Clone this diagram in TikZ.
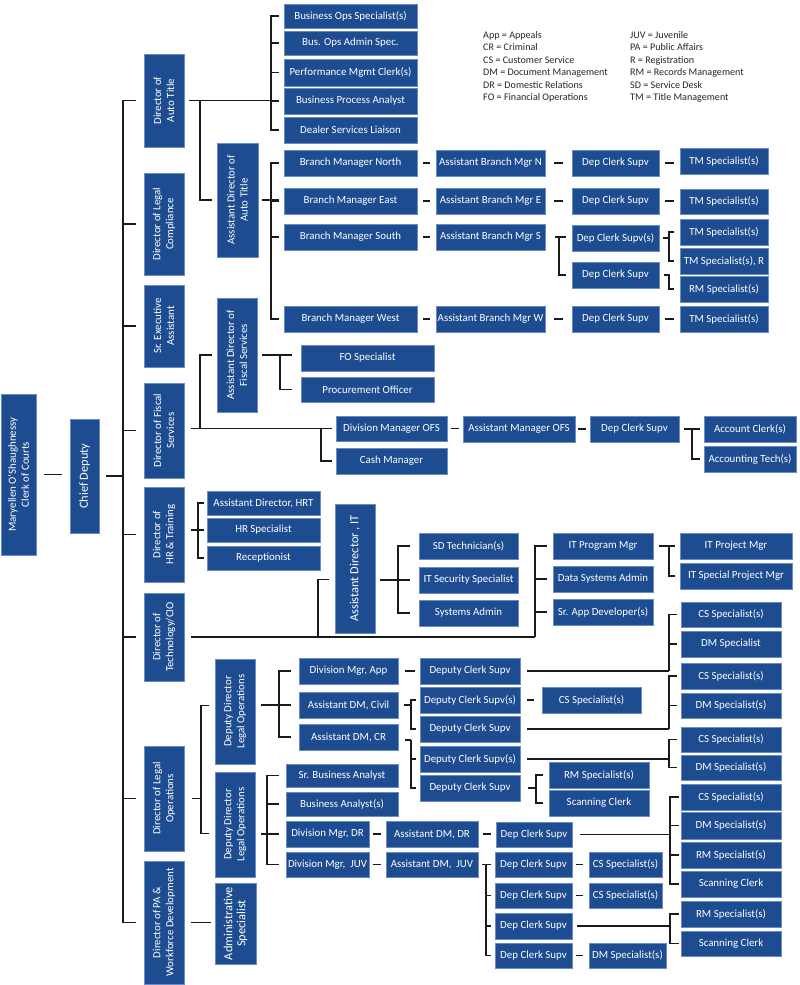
\documentclass[tikz,border=0pt]{standalone}
\usepackage{fontspec}
\setmainfont{Carlito}
\definecolor{boxblue}{HTML}{1E4C91}
\definecolor{boxline}{HTML}{6A8CC2}
\definecolor{inkline}{HTML}{1A1A1A}
\newcommand\hb[6]{\node[box, minimum width={(#4-#2)*1pt}, minimum height={(#5-#3)*1pt}] (#1) at ({(#2+#4)/2},{(#3+#5)/2}) {#6};}
\newcommand\vb[6]{\node[box, rotate=90, minimum width={(#5-#3)*1pt}, minimum height={(#4-#2)*1pt}] (#1) at ({(#2+#4)/2},{(#3+#5)/2}) {#6};}
\newcommand\dsh[4]{\draw[ln] ([xshift=#3pt]#1.east) -- ([xshift=-#4pt]#1.east -| #2.west);}
\newcommand\bigtxt{\fontsize{12.4}{14.5}\selectfont}
\begin{document}
\begin{tikzpicture}[x=1pt,y=-1pt,
  box/.style={fill=boxblue, draw=boxline, line width=0.6pt, text=white,
    font=\fontsize{10.9}{13}\selectfont, align=center, inner sep=0pt},
  ln/.style={line width=1.1pt, draw=inkline},
  lgd/.style={anchor=north west, inner sep=0pt, align=left, text=black!85,
    font=\fontsize{10.1}{12.45}\selectfont}]
\useasboundingbox (0,0) rectangle (800,985);

% ---------- top levels ----------
\vb{clerk}{1}{394}{36}{555}{Maryellen O'Shaughnessy\\Clerk of Courts}
\vb{chief}{70}{419}{99}{533}{\bigtxt Chief Deputy}

\vb{dAuto}{144}{54}{184}{147}{Director of\\Auto Title}
\vb{dLegal}{144}{173}{184}{275}{Director of Legal\\Compliance}
\vb{dExec}{144}{285}{184}{367}{Sr. Executive\\Assistant}
\vb{dFisc}{144}{383}{184}{478}{Director of Fiscal\\Services}
\vb{dHR}{144}{487}{184}{582}{Director of\\HR \& Training}
\vb{dTech}{144}{593}{184}{681}{Director of\\Technology/CIO}
\vb{dLOps}{144}{746}{184}{851}{Director of Legal\\Operations}
\vb{dPA}{144}{861}{184}{984}{Director of PA \&\\Workforce Development}

\vb{aAuto}{217}{143}{258}{257}{Assistant Director of\\Auto Title}
\vb{aFisc}{217}{298}{257}{412}{Assistant Director of\\Fiscal Services}
\vb{aIT}{335}{504}{375}{633}{\bigtxt Assistant Director , IT}
\vb{ddA}{215}{659}{255}{764}{Deputy Director\\Legal Operations}
\vb{ddB}{215}{772}{255}{877}{Deputy Director\\Legal Operations}
\vb{admS}{215}{883}{256}{964}{\bigtxt Administrative\\\bigtxt Specialist}

% ---------- auto title ----------
\hb{bos}{284}{4}{417}{28}{Business Ops Specialist(s)}
\hb{boa}{284}{31}{417}{55}{Bus. Ops Admin Spec.}
\hb{pmc}{284}{59}{417}{86}{Performance Mgmt Clerk(s)}
\hb{bpa}{284}{88}{417}{114}{Business Process Analyst}
\hb{dsl}{284}{117}{417}{143}{Dealer Services Liaison}

\hb{bmN}{284}{150}{417}{176}{Branch Manager North}
\hb{abmN}{436}{150}{545}{176}{Assistant Branch Mgr N}
\hb{dcsN}{572}{150}{659}{176}{Dep Clerk Supv}
\hb{tmN}{680}{148}{768}{174}{TM Specialist(s)}

\hb{bmE}{284}{188}{417}{214}{Branch Manager East}
\hb{abmE}{436}{188}{545}{214}{Assistant Branch Mgr E}
\hb{dcsE}{572}{188}{659}{214}{Dep Clerk Supv}
\hb{tmE}{680}{189}{768}{214}{TM Specialist(s)}

\hb{bmS}{284}{224}{417}{250}{Branch Manager South}
\hb{abmS}{436}{224}{545}{250}{Assistant Branch Mgr S}
\hb{dcsS}{572}{225}{659}{251}{Dep Clerk Supv(s)}
\hb{dcsT}{572}{262}{659}{288}{Dep Clerk Supv}
\hb{tmS}{680}{219}{768}{245}{TM Specialist(s)}
\hb{tmR}{680}{248}{768}{274}{TM Specialist(s), R}
\hb{rmS}{680}{276}{768}{302}{RM Specialist(s)}

\hb{bmW}{284}{306}{417}{332}{Branch Manager West}
\hb{abmW}{436}{306}{545}{332}{Assistant Branch Mgr W}
\hb{dcsW}{572}{306}{659}{332}{Dep Clerk Supv}
\hb{tmW}{680}{306}{768}{332}{TM Specialist(s)}

% ---------- fiscal ----------
\hb{foSpec}{301}{345}{434}{371}{FO Specialist}
\hb{procOff}{301}{377}{434}{402}{Procurement Officer}
\hb{dmOFS}{336}{416}{447}{441}{Division Manager OFS}
\hb{cashMgr}{336}{448}{447}{474}{Cash Manager}
\hb{amOFS}{463}{416}{575}{442}{Assistant Manager OFS}
\hb{dcsOFS}{590}{416}{679}{442}{Dep Clerk Supv}
\hb{acctC}{704}{416}{796}{442}{Account Clerk(s)}
\hb{acctT}{704}{446}{796}{472}{Accounting Tech(s)}

% ---------- HR ----------
\hb{adHRT}{207}{491}{320}{515}{Assistant Director, HRT}
\hb{hrSpec}{207}{518}{320}{542}{HR Specialist}
\hb{recep}{207}{546}{320}{570}{Receptionist}

% ---------- IT ----------
\hb{sdTech}{419}{533}{518}{559}{SD Technician(s)}
\hb{itSec}{419}{567}{518}{593}{IT Security Specialist}
\hb{sysAdm}{419}{600}{518}{626}{Systems Admin}
\hb{itPM}{553}{533}{653}{559}{IT Program Mgr}
\hb{dsa}{553}{566}{653}{592}{Data Systems Admin}
\hb{sad}{553}{599}{653}{625}{Sr. App Developer(s)}
\hb{itPrj}{680}{533}{792}{559}{IT Project Mgr}
\hb{itSp}{680}{563}{792}{589}{IT Special Project Mgr}

% ---------- legal operations ----------
\hb{dmApp}{299}{658}{398}{684}{Division Mgr, App}
\hb{adCiv}{299}{692}{398}{718}{Assistant DM, Civil}
\hb{adCR}{299}{724}{398}{750}{Assistant DM, CR}
\hb{dcsApp}{420}{658}{520}{684}{Deputy Clerk Supv}
\hb{dcsC1}{420}{687}{520}{713}{Deputy Clerk Supv(s)}
\hb{dcsC2}{420}{716}{520}{742}{Deputy Clerk Supv}
\hb{dcsR1}{420}{746}{520}{772}{Deputy Clerk Supv(s)}
\hb{dcsR2}{420}{775}{520}{801}{Deputy Clerk Supv}
\hb{csCiv}{542}{687}{641}{713}{CS Specialist(s)}
\hb{rmCR}{549}{762}{649}{788}{RM Specialist(s)}
\hb{scCR}{549}{790}{649}{816}{Scanning Clerk}

\hb{csA}{681}{602}{781}{627}{CS Specialist(s)}
\hb{dmA}{681}{631}{781}{657}{DM Specialist}
\hb{csB}{681}{663}{781}{689}{CS Specialist(s)}
\hb{dmB}{681}{693}{781}{718}{DM Specialist(s)}
\hb{csC}{681}{727}{781}{752}{CS Specialist(s)}
\hb{dmC}{681}{755}{781}{780}{DM Specialist(s)}
\hb{csD}{681}{784}{781}{810}{CS Specialist(s)}
\hb{dmD}{681}{812}{781}{839}{DM Specialist(s)}
\hb{rmD}{681}{842}{781}{868}{RM Specialist(s)}
\hb{scD}{681}{871}{781}{897}{Scanning Clerk}
\hb{rmE}{681}{901}{781}{927}{RM Specialist(s)}
\hb{scE}{681}{931}{781}{956}{Scanning Clerk}

\hb{sba}{286}{764}{398}{787}{Sr. Business Analyst}
\hb{ba}{286}{792}{398}{816}{Business Analyst(s)}
\hb{dmDR}{286}{821}{369}{847}{Division Mgr, DR}
\hb{dmJUV}{286}{852}{369}{877}{Division Mgr,~ JUV}
\hb{adDR}{386}{821}{478}{847}{Assistant DM, DR}
\hb{adJUV}{386}{852}{478}{877}{Assistant DM,~ JUV}
\hb{dcsDR}{496}{822}{572}{847}{Dep Clerk Supv}
\hb{dcsJ1}{495}{852}{572}{877}{Dep Clerk Supv}
\hb{dcsJ2}{495}{883}{572}{908}{Dep Clerk Supv}
\hb{dcsJ3}{495}{913}{572}{939}{Dep Clerk Supv}
\hb{dcsJ4}{495}{943}{572}{968}{Dep Clerk Supv}
\hb{csJ1}{589}{852}{662}{877}{CS Specialist(s)}
\hb{csJ2}{589}{883}{662}{908}{CS Specialist(s)}
\hb{dmJ4}{589}{943}{666}{968}{DM Specialist(s)}

% ---------- legend ----------
\node[lgd] (legL) at (483,31) {App = Appeals\\CR = Criminal\\CS = Customer Service\\DM = Document Management\\DR = Domestic Relations\\FO = Financial Operations};
\node[lgd] (legR) at (630,31) {JUV = Juvenile\\PA = Public Affairs\\R = Registration\\RM = Records Management\\SD = Service Desk\\TM = Title Management};

% ---------- bus coordinates ----------
\coordinate (busD) at (123,0);
\coordinate (b1) at (271,0);
\coordinate (b2) at (200,0);
\coordinate (b4) at (559,0);
\coordinate (b5) at (669,0);
\coordinate (b6) at (200,0);
\coordinate (b7) at (321,0);
\coordinate (b8) at (280,0);
\coordinate (b9) at (692,0);
\coordinate (b10) at (198,0);
\coordinate (b11) at (318,0);
\coordinate (b12) at (535,0);
\coordinate (b13) at (398,0);
\coordinate (b14) at (669,0);
\coordinate (b15) at (201,0);
\coordinate (b16) at (279,0);
\coordinate (b17) at (267,0);
\coordinate (b18) at (411,0);
\coordinate (b19) at (669,0);
\coordinate (b20) at (536,0);
\coordinate (b21) at (486,0);
\coordinate (b22) at (670,0);

% ---------- connectors: top ----------
\draw[ln] ([xshift=8pt]clerk.south) -- ([xshift=-8pt]clerk.south -| chief.north);
\draw[ln] ([xshift=7pt]chief.south) -- (chief.south -| busD);
\foreach \d in {dAuto,dLegal,dExec,dFisc,dHR,dTech,dLOps,dPA}
  \draw[ln] (chief.south -| busD) |- ([xshift=-8pt]\d.north);

% auto title
\draw[ln] ([xshift=5pt]dAuto.south) -- ([xshift=-5pt]dAuto.south -| bpa.west);
\foreach \c in {bos,boa,pmc,bpa,dsl}
  \draw[ln] (dAuto.south -| b1) |- ([xshift=-5pt]\c.west);
\draw[ln] (dAuto.south -| b2) |- ([xshift=-5pt]aAuto.north);
\draw[ln] ([xshift=4pt]aAuto.south) -- ([xshift=-5pt]aAuto.south -| bmE.west);
\foreach \c in {bmN,bmE,bmS,bmW}
  \draw[ln] (aAuto.south -| b1) |- ([xshift=-5pt]\c.west);
\dsh{bmN}{abmN}{6}{6}\dsh{abmN}{dcsN}{9}{9}\dsh{dcsN}{tmN}{6}{6}
\dsh{bmE}{abmE}{6}{6}\dsh{abmE}{dcsE}{9}{9}\dsh{dcsE}{tmE}{6}{6}
\dsh{bmS}{abmS}{6}{6}
\dsh{bmW}{abmW}{6}{6}\dsh{abmW}{dcsW}{9}{9}\dsh{dcsW}{tmW}{6}{6}
\draw[ln] ([xshift=10pt]abmS.east) -- ([xshift=-6pt]abmS.east -| dcsS.west);
\draw[ln] (abmS.east -| b4) |- ([xshift=-6pt]dcsT.west);
\draw[ln] ([xshift=4pt]dcsS.east) -- (dcsS.east -| b5);
\draw[ln] (dcsS.east -| b5) |- ([xshift=-6pt]tmS.west);
\draw[ln] (dcsS.east -| b5) |- ([xshift=-6pt]tmR.west);
\draw[ln] ([xshift=5pt]dcsT.east) -- (dcsT.east -| b5) |- ([xshift=-6pt]rmS.west);

% fiscal
\draw[ln] ([xshift=7pt]dFisc.south |- dmOFS.west) -- ([xshift=-4pt]dmOFS.west);
\draw[ln] (b6 |- dmOFS.west) |- ([xshift=-5pt]aFisc.north);
\draw[ln] (b7 |- dmOFS.west) |- ([xshift=-4pt]cashMgr.west);
\draw[ln] ([xshift=5pt]aFisc.south) -- ([xshift=-9pt]aFisc.south -| foSpec.west);
\draw[ln] (aFisc.south -| b8) |- ([xshift=-9pt]procOff.west);
\dsh{dmOFS}{amOFS}{4}{4}\dsh{amOFS}{dcsOFS}{3}{4}
\draw[ln] ([xshift=5pt]dcsOFS.east) -- ([xshift=-4pt]dcsOFS.east -| acctC.west);
\draw[ln] (dcsOFS.east -| b9) |- ([xshift=-4pt]acctT.west);

% HR
\draw[ln] ([xshift=7pt]dHR.south |- hrSpec.west) -- ([xshift=-3pt]hrSpec.west);
\draw[ln] (b10 |- hrSpec.west) |- ([xshift=-3pt]adHRT.west);
\draw[ln] (b10 |- hrSpec.west) |- ([xshift=-3pt]recep.west);

% IT
\draw[ln] ([xshift=7pt]dTech.south) -- (dTech.south -| b12);
\draw[ln] (dTech.south -| b11) |- ([xshift=-6pt,yshift=-11pt]aIT.north);
\foreach \c in {itPM,dsa,sad}
  \draw[ln] (dTech.south -| b12) |- ([xshift=-6pt]\c.west);
\draw[ln] ([xshift=5pt]aIT.south |- itSec.west) -- ([xshift=-9pt]itSec.west);
\draw[ln] (b13 |- itSec.west) |- ([xshift=-9pt]sdTech.west);
\draw[ln] (b13 |- itSec.west) |- ([xshift=-9pt]sysAdm.west);
\draw[ln] ([xshift=6pt]itPM.east) -- ([xshift=-5pt]itPM.east -| itPrj.west);
\draw[ln] (itPM.east -| b14) |- ([xshift=-5pt]itSp.west);

% legal operations
\draw[ln] ([xshift=8pt]dLOps.south) -- (dLOps.south -| b15);
\draw[ln] (dLOps.south -| b15) |- ([xshift=-6pt,yshift=6pt]ddA.north);
\draw[ln] (dLOps.south -| b15) |- ([xshift=-6pt,yshift=-9pt]ddB.north);
\draw[ln] ([xshift=7pt]dPA.south) -- ([xshift=-4pt]dPA.south -| admS.north);

\draw[ln] ([xshift=6pt]ddA.south |- adCiv.west) -- ([xshift=-8pt]adCiv.west);
\draw[ln] (b16 |- adCiv.west) |- ([xshift=-8pt]dmApp.west);
\draw[ln] (b16 |- adCiv.west) |- ([xshift=-8pt]adCR.west);

\draw[ln] ([xshift=6pt]ddB.south |- dmDR.west) -- ([xshift=-7pt]dmDR.west);
\foreach \c in {sba,ba,dmJUV}
  \draw[ln] (b17 |- dmDR.west) |- ([xshift=-7pt]\c.west);

\dsh{dmApp}{dcsApp}{7}{5}
\draw[ln] ([xshift=6pt]adCiv.east) -- (adCiv.east -| b18);
\draw[ln] (adCiv.east -| b18) |- ([xshift=-4pt]dcsC1.west);
\draw[ln] (adCiv.east -| b18) |- ([xshift=-4pt]dcsC2.west);
\draw[ln] ([xshift=7pt,yshift=-3pt]adCR.east) -- ([yshift=-3pt]adCR.east -| b18);
\draw[ln] ([yshift=-3pt]adCR.east -| b18) |- ([xshift=-4pt]dcsR1.west);
\draw[ln] ([yshift=-3pt]adCR.east -| b18) |- ([xshift=-4pt]dcsR2.west);

\draw[ln] ([xshift=7pt]dcsApp.east) -- (dcsApp.east -| b19);
\draw[ln] (dcsApp.east -| b19) |- ([xshift=-4pt]csA.west);
\draw[ln] (dcsApp.east -| b19) |- ([xshift=-4pt]dmA.west);
\dsh{dcsC1}{csCiv}{7}{8}
\draw[ln] ([xshift=7pt]dcsC2.east) -- (dcsC2.east -| b19);
\draw[ln] (dcsC2.east -| b19) |- ([xshift=-4pt]csB.west);
\draw[ln] (dcsC2.east -| b19) |- ([xshift=-4pt]dmB.west);
\draw[ln] ([xshift=7pt]dcsR1.east) -- (dcsR1.east -| b19);
\draw[ln] (dcsR1.east -| b19) |- ([xshift=-4pt]csC.west);
\draw[ln] (dcsR1.east -| b19) |- ([xshift=-4pt]dmC.west);
\draw[ln] ([xshift=8pt]dcsR2.east) -- (dcsR2.east -| b20);
\draw[ln] (dcsR2.east -| b20) |- ([xshift=-6pt]rmCR.west);
\draw[ln] (dcsR2.east -| b20) |- ([xshift=-6pt]scCR.west);

\dsh{dmDR}{adDR}{4}{5}\dsh{adDR}{dcsDR}{5}{5}\dsh{dmJUV}{adJUV}{4}{5}
\draw[ln] ([xshift=4pt]adJUV.east) -- ([xshift=-4pt]adJUV.east -| dcsJ1.west);
\foreach \c in {dcsJ2,dcsJ3,dcsJ4}
  \draw[ln] (adJUV.east -| b21) |- ([xshift=-4pt]\c.west);
\dsh{dcsJ1}{csJ1}{4}{6}\dsh{dcsJ2}{csJ2}{4}{6}\dsh{dcsJ4}{dmJ4}{4}{6}

\draw[ln] ([xshift=8pt]dcsDR.east) -- (dcsDR.east -| b22);
\foreach \c in {csD,dmD,rmD,scD}
  \draw[ln] (dcsDR.east -| b22) |- ([xshift=-2pt]\c.west);
\draw[ln] ([xshift=5pt]dcsJ3.east) -- (dcsJ3.east -| b22);
\draw[ln] (dcsJ3.east -| b22) |- ([xshift=-2pt]rmE.west);
\draw[ln] (dcsJ3.east -| b22) |- ([xshift=-2pt]scE.west);
\end{tikzpicture}
\end{document}
